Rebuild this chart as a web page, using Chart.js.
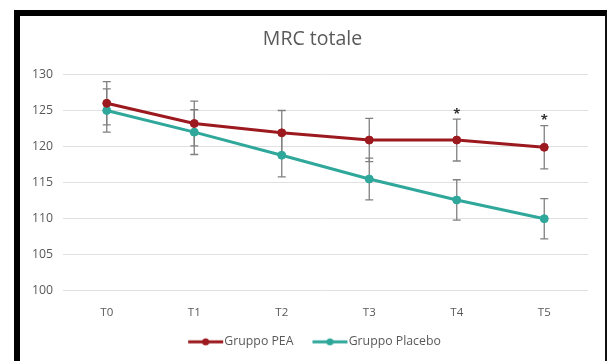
<!DOCTYPE html>
<html>
<head>
<meta charset="utf-8">
<script src="https://cdn.jsdelivr.net/npm/chart.js@4"></script>
<style>
  body { margin: 0; background: #fff; }
  #frame {
    position: absolute; left: 14px; top: 10px;
    width: 585px; height: 345px;
    border-left: 6px solid #000; border-top: 6px solid #000; border-right: 2px solid #111;
    background: #fff;
  }
  canvas { display: block; }
</style>
</head>
<body>
<div id="frame"><canvas id="mrcChart" width="585" height="345"></canvas></div>
<script>
const labels = ['T0', 'T1', 'T2', 'T3', 'T4', 'T5'];
const peaValues = [126, 123.2, 121.9, 120.9, 120.9, 119.9];
const peaErrors = [3, 3.1, 3.1, 3, 2.9, 3];
const placeboValues = [125, 122, 118.8, 115.5, 112.6, 110];
const placeboErrors = [3, 3.1, 3, 2.9, 2.8, 2.8];
const significant = [false, false, false, false, true, true];
const yTicks = [100, 105, 110, 115, 120, 125, 130];

const peaColor = '#9c1a1f';
const placeboColor = '#2fa89b';
const textColor = '#595959';
const fontFamily = '"Open Sans", sans-serif';

// little line+dot picture for the legend (wider than the box so it meets the text)
function legendMark(color) {
    let c = document.createElement('canvas');
    c.width = 46; c.height = 10;
    let g = c.getContext('2d');
    g.strokeStyle = color;
    g.lineWidth = 3;
    g.beginPath(); g.moveTo(10, 5); g.lineTo(45, 5); g.stroke();
    g.fillStyle = color;
    g.beginPath(); g.arc(27.5, 5, 3.5, 0, Math.PI * 2); g.fill();
    return c;
}

const errorBars = {
    id: 'errorBars',
    beforeDatasetsDraw(chart) {
        let ctx = chart.ctx;
        let y = chart.scales.y;
        ctx.save();
        ctx.strokeStyle = '#808080';
        ctx.lineWidth = 1.3;
        chart.data.datasets.forEach(function (ds, i) {
            chart.getDatasetMeta(i).data.forEach(function (pt, j) {
                let top = y.getPixelForValue(ds.data[j] + ds.errors[j]);
                let bottom = y.getPixelForValue(ds.data[j] - ds.errors[j]);
                ctx.beginPath();
                ctx.moveTo(pt.x, top); ctx.lineTo(pt.x, bottom);
                ctx.moveTo(pt.x - 4, top); ctx.lineTo(pt.x + 4, top);
                ctx.moveTo(pt.x - 4, bottom); ctx.lineTo(pt.x + 4, bottom);
                ctx.stroke();
            });
        });
        ctx.restore();
    },
    afterDatasetsDraw(chart) {
        let ctx = chart.ctx;
        let y = chart.scales.y;
        ctx.save();
        ctx.fillStyle = '#333';
        ctx.font = 'bold 13px ' + fontFamily;
        ctx.textAlign = 'center';
        ctx.textBaseline = 'middle';
        chart.getDatasetMeta(0).data.forEach(function (pt, j) {
            if (significant[j]) {
                let top = y.getPixelForValue(peaValues[j] + peaErrors[j]);
                ctx.fillText('*', pt.x, top - 5);
            }
        });
        ctx.restore();
    }
};

let ctx = document.getElementById('mrcChart').getContext('2d');

let mrcChart = new Chart(ctx, {
    type: 'line',
    data: {
        labels: labels,
        datasets: [{
            label: 'Gruppo PEA',
            data: peaValues,
            errors: peaErrors,
            borderColor: peaColor,
            backgroundColor: peaColor,
            borderWidth: 3,
            pointRadius: 4,
            pointBorderWidth: 1
        }, {
            label: 'Gruppo Placebo',
            data: placeboValues,
            errors: placeboErrors,
            borderColor: placeboColor,
            backgroundColor: placeboColor,
            borderWidth: 3,
            pointRadius: 4,
            pointBorderWidth: 1
        }]
    },
    options: {
        responsive: false,
        animation: false,
        layout: { padding: { left: 0, right: 0, top: 0, bottom: 3 } },
        plugins: {
            title: {
                display: true,
                text: 'MRC totale',
                color: textColor,
                font: { family: fontFamily, size: 19.5, weight: 'normal' },
                padding: { top: 12, bottom: 23 }
            },
            legend: {
                position: 'bottom',
                labels: {
                    color: textColor,
                    font: { family: fontFamily, size: 12.3 },
                    usePointStyle: true,
                    pointStyleWidth: 34,
                    padding: 15,
                    generateLabels(chart) {
                        return chart.data.datasets.map(function (ds, i) {
                            return {
                                text: ds.label,
                                fontColor: textColor,
                                pointStyle: legendMark(ds.borderColor),
                                strokeStyle: 'transparent',
                                lineWidth: 0,
                                datasetIndex: i
                            };
                        });
                    }
                }
            },
            tooltip: { enabled: false }
        },
        scales: {
            x: {
                offset: true,
                grid: { display: false, drawTicks: false },
                border: { display: false },
                ticks: { color: textColor, padding: 15, font: { family: fontFamily, size: 11.5 } },
                // let the legend's top padding overlap the axis band
                afterFit(axis) { axis.height -= 14; }
            },
            y: {
                min: 100,
                max: 130,
                afterBuildTicks(axis) { axis.ticks = yTicks.map(v => ({ value: v })); },
                afterFit(axis) { axis.width = 43; },
                grid: { color: '#e0e0e0', drawTicks: false },
                border: { display: false },
                ticks: { color: textColor, padding: 10, font: { family: fontFamily, size: 12.3 } }
            },
            // empty right-hand band so title and legend stay centred on the whole frame
            yRight: {
                position: 'right',
                grid: { display: false },
                border: { display: false },
                ticks: { display: false },
                afterFit(axis) { axis.width = 17; }
            }
        }
    },
    plugins: [errorBars]
});
</script>
</body>
</html>
